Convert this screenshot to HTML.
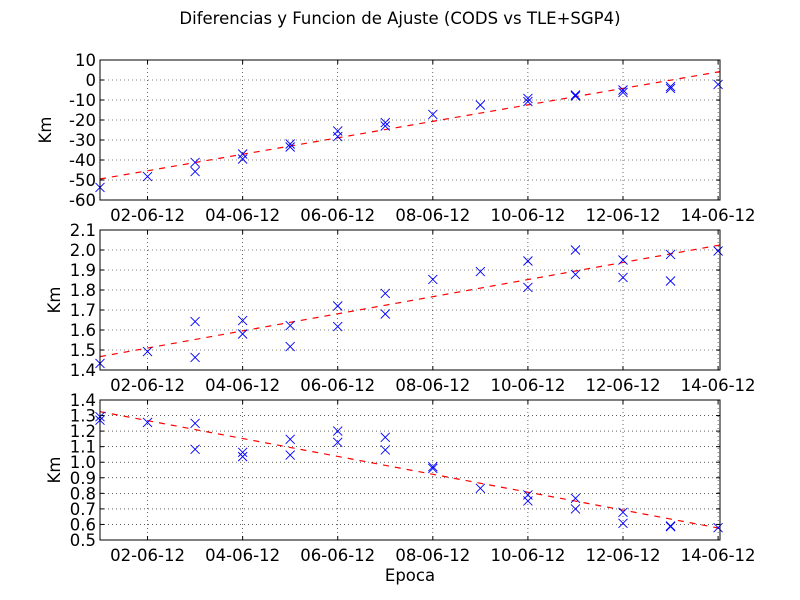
<!DOCTYPE html>
<html><head><meta charset="utf-8"><style>
body{margin:0;background:#fff}
svg{display:block;font-family:"DejaVu Sans","Liberation Sans",sans-serif}
</style></head><body>
<svg id="c" width="800" height="600">
<text x="400" y="24" text-anchor="middle" font-size="16.5">Diferencias y Funcion de Ajuste (CODS vs TLE+SGP4)</text>
<text x="410" y="581" text-anchor="middle" font-size="16.5">Epoca</text>
</svg>
<script>
const xTicks=[2,4,6,8,10,12,14];
const xTickLabels=["02-06-12","04-06-12","06-06-12","08-06-12","10-06-12","12-06-12","14-06-12"];
const days1=[1,2,3,3,4,4,5,5,6,6,7,7,8,9,10,10,11,11,12,12,13,13,14];
const vals1=[-53.7,-48.3,-41.2,-45.8,-37,-39.5,-32,-33.5,-25.5,-28.3,-21.3,-23,-17.2,-12.5,-9.2,-10.8,-7.5,-8,-5,-6.2,-3.3,-4.2,-2.2];
const fit1=[-49.5,4.2];
const days2=[1,2,3,3,4,4,5,5,6,6,7,7,8,9,10,10,11,11,12,12,13,13,14];
const vals2=[1.433,1.492,1.642,1.463,1.647,1.58,1.622,1.517,1.72,1.617,1.783,1.68,1.853,1.892,1.945,1.813,2.0,1.878,1.95,1.863,1.978,1.845,1.995];
const fit2=[1.467,2.025];
const days3=[1,1,2,3,3,4,4,5,5,6,6,7,7,8,8,9,10,10,11,11,12,12,13,13,14];
const vals3=[1.293,1.27,1.256,1.25,1.083,1.064,1.036,1.147,1.046,1.2,1.128,1.16,1.079,0.971,0.96,0.832,0.79,0.751,0.768,0.7,0.678,0.607,0.586,0.59,0.579];
const fit3=[1.325,0.575];
const yTicks1=[10,0,-10,-20,-30,-40,-50,-60];
const yTicks2=[2.1,2.0,1.9,1.8,1.7,1.6,1.5,1.4];
const yTicks3=[1.4,1.3,1.2,1.1,1.0,0.9,0.8,0.7,0.6,0.5];
const X0=100,X1=720,D0=1,D1=14.04;
const svg=document.getElementById('c');
const NS='http://www.w3.org/2000/svg';
function xs(d){return X0+(d-D0)/(D1-D0)*(X1-X0);}
function mk(t,a,p){const e=document.createElementNS(NS,t);for(const k in a)e.setAttribute(k,a[k]);(p||svg).appendChild(e);return e;}
function panel(id,top,bot,ymax,ymin,yt,days,vals,fit,dec,lblX){
  const ys=v=>top+(ymax-v)/(ymax-ymin)*(bot-top);
  const g=mk('g',{});
  
  
  mk('rect',{x:X0,y:top,width:X1-X0,height:bot-top,fill:'#fff'},g);
  yt.forEach(v=>{const y=ys(v);
    mk('line',{x1:X0,x2:X1,y1:y,y2:y,stroke:'#000','stroke-width':0.6,'stroke-dasharray':'1,3'},g);
    mk('line',{x1:X0,x2:X0+4,y1:y,y2:y,stroke:'#000'},g);
    mk('line',{x1:X1-4,x2:X1,y1:y,y2:y,stroke:'#000'},g);
    const t=mk('text',{x:X0-4,y:y+6,'text-anchor':'end','font-size':16.5},g);t.textContent=v.toFixed(dec);
    
    
  });
  xTicks.forEach((d,i)=>{const x=xs(d);
    mk('line',{x1:x,x2:x,y1:top,y2:bot,stroke:'#000','stroke-width':0.6,'stroke-dasharray':'1,3'},g);
    mk('line',{x1:x,x2:x,y1:bot,y2:bot-4,stroke:'#000'},g);
    mk('line',{x1:x,x2:x,y1:top,y2:top+4,stroke:'#000'},g);
    const t=mk('text',{x:x,y:bot+21,'text-anchor':'middle','font-size':16.5},g);t.textContent=xTickLabels[i];
    
    
  });
  const ln=mk('line',{x1:xs(D0),y1:ys(fit[0]),x2:xs(D1),y2:ys(fit[1]),stroke:'#f00','stroke-width':1.2,'stroke-dasharray':'6,6'},g);
  
  
  days.forEach((d,i)=>{const x=xs(d),y=ys(vals[i]),r=4.5;
    const p=mk('path',{d:`M${x-r},${y-r}L${x+r},${y+r}M${x-r},${y+r}L${x+r},${y-r}`,stroke:'#00f','stroke-width':0.9,fill:'none'},g);
    
    
  });
  mk('rect',{x:X0,y:top,width:X1-X0,height:bot-top,fill:'none',stroke:'#000','stroke-width':1},g);
  const yl=mk('text',{x:0,y:0,transform:`translate(${lblX},${(top+bot)/2}) rotate(-90)`,'text-anchor':'middle','font-size':16.5},g);
  yl.textContent='Km';
  
  
}
panel('1',60,200,10,-60,yTicks1,days1,vals1,fit1,0,51);
panel('2',230,370,2.1,1.4,yTicks2,days2,vals2,fit2,1,60);
panel('3',400,540,1.4,0.5,yTicks3,days3,vals3,fit3,1,60);
</script>
</body></html>
